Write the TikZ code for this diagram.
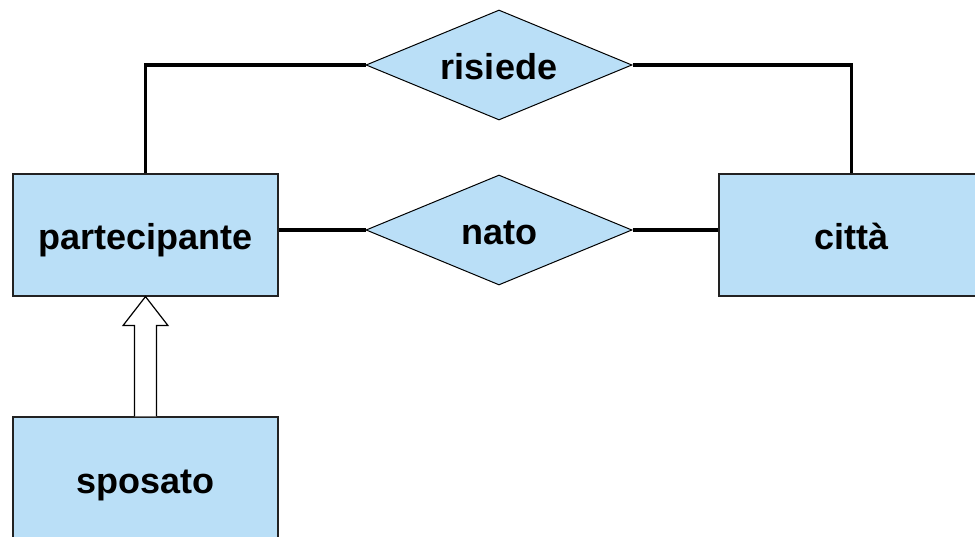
\documentclass[tikz,border=0pt]{standalone}
\usepackage{fontspec}
\setmainfont{Liberation Sans}
\usepackage{xcolor}
\usetikzlibrary{shapes.geometric,positioning,calc}
\definecolor{entityblue}{HTML}{BADFF7}
\definecolor{edgegray}{HTML}{222222}

\begin{document}
\begin{tikzpicture}[x=1pt,y=1pt,font=\fontsize{36}{40}\selectfont\bfseries]
  \tikzset{entity/.style={draw=edgegray,fill=entityblue,line width=1.2pt,minimum width=265pt,minimum height=122pt,inner sep=0pt,text height=36pt,text depth=6pt},
    relation/.style={diamond,draw=black,fill=entityblue,line width=1pt,minimum width=266pt,minimum height=110pt,inner sep=0pt,aspect=2.4,text height=34pt,text depth=4pt},
    link/.style={line width=3.3pt,black}}
  \useasboundingbox (0,0) rectangle (975,536);

  \node[entity] (partecipante) at (145.5,301) {partecipante};
  \node[entity] (citta) at (851.5,301) {città};
  \node[entity] (sposato) at (145.5,58) {sposato};

  \node[relation] (risiede) at (499,471) {risiede};
  \node[relation] (nato) at (499,306) {nato};

  \draw[link] (partecipante.north) |- (risiede.west);
  \draw[link] (risiede.east) -| (citta.north);
  \draw[link] (nato.west) -- (nato.west -| partecipante.east);
  \draw[link] (nato.east) -- (nato.east -| citta.west);

  % generalisation arrow
  \draw[fill=white,line width=1.2pt,line join=miter]
    ($(sposato.north)+(-11,0)$) -- ($(partecipante.south)+(-11,-29)$)
    -- ($(partecipante.south)+(-22.5,-29)$) -- (partecipante.south)
    -- ($(partecipante.south)+(22.5,-29)$) -- ($(partecipante.south)+(11,-29)$)
    -- ($(sposato.north)+(11,0)$);
\end{tikzpicture}
\end{document}
